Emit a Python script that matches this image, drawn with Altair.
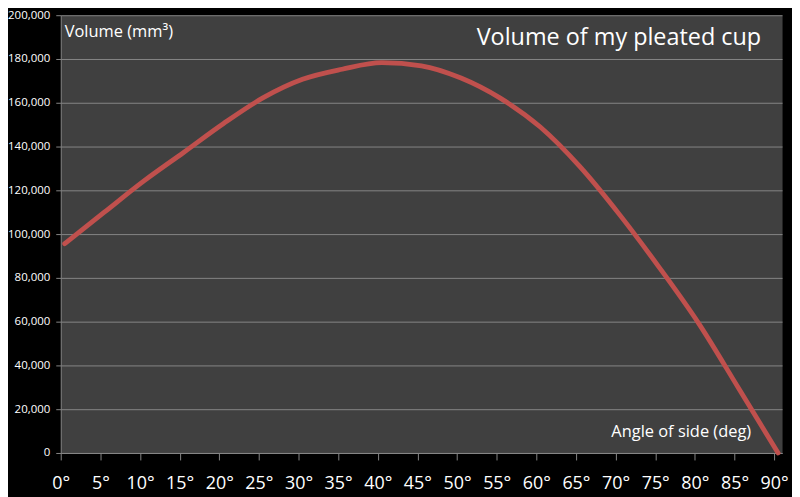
import altair as alt
import pandas as pd

# Data
angles = [0, 5, 10, 15, 20, 25, 30, 35, 40, 45, 50, 55, 60, 65, 70, 75, 80, 85, 90]
volumes = [95600, 110000, 124300, 137300, 150400, 162200, 170700, 175300, 178300,
           176900, 171300, 162000, 148900, 130800, 108900, 84800, 59100, 29700, 0]
x_ticks = list(range(0, 95, 5))
y_ticks = list(range(0, 200001, 20000))

title_text = ["Volume of my pleated cup"]
y_title = ["Volume (mm³)"]
x_title = ["Angle of side (deg)"]

FONT = "Open Sans"
GRID = "#858585"

df = pd.DataFrame({"angle": angles, "volume": volumes})

line = (
    alt.Chart(df)
    .transform_calculate(pos="datum.angle + 0.5")
    .mark_line(color="#c0504d", strokeWidth=4.8, interpolate="monotone", strokeCap="round")
    .encode(
        x=alt.X(
            "pos:Q",
            scale=alt.Scale(domain=[0, 91], nice=False, zero=False),
            axis=alt.Axis(
                values=x_ticks,
                labelExpr="datum.value + '°'",
                title=None,
                grid=False,
                tickSize=7,
                tickColor=GRID,
                domainColor=GRID,
                labelFontSize=18,
                labelPadding=15,
                labelColor="#ffffff",
                labelFont=FONT,
                labelFlush=False,
                labelOverlap=False,
            ),
        ),
        y=alt.Y(
            "volume:Q",
            scale=alt.Scale(domain=[0, 200000], nice=False),
            axis=alt.Axis(
                values=y_ticks,
                format=",d",
                title=None,
                grid=True,
                gridColor=GRID,
                gridWidth=1,
                tickSize=5,
                tickColor=GRID,
                domainColor=GRID,
                labelFontSize=11.5,
                labelPadding=6,
                labelColor="#ffffff",
                labelFont=FONT,
                labelOverlap=False,
            ),
        ),
    )
)

title = (
    alt.Chart(pd.DataFrame({"t": title_text}))
    .mark_text(align="right", baseline="alphabetic", fontSize=23.5, font=FONT, color="#ffffff")
    .encode(x=alt.value(704), y=alt.value(30), text="t:N")
)
ytitle = (
    alt.Chart(pd.DataFrame({"t": y_title}))
    .mark_text(align="left", baseline="alphabetic", fontSize=16.5, font=FONT, color="#ffffff")
    .encode(x=alt.value(4), y=alt.value(22), text="t:N")
)
xtitle = (
    alt.Chart(pd.DataFrame({"t": x_title}))
    .mark_text(align="right", baseline="alphabetic", fontSize=16.5, font=FONT, color="#ffffff")
    .encode(x=alt.value(694), y=alt.value(424), text="t:N")
)

chart = (
    alt.layer(line, title, ytitle, xtitle)
    .properties(
        width=725,
        height=440,
        autosize=alt.AutoSizeParams(type="none"),
        padding={"left": 53, "top": 6, "right": 10, "bottom": 43},
        background="#000000",
    )
    .configure_view(fill="#404040", stroke="transparent")
)

chart.save("out.html", embed_options={"renderer": "svg", "actions": False})
